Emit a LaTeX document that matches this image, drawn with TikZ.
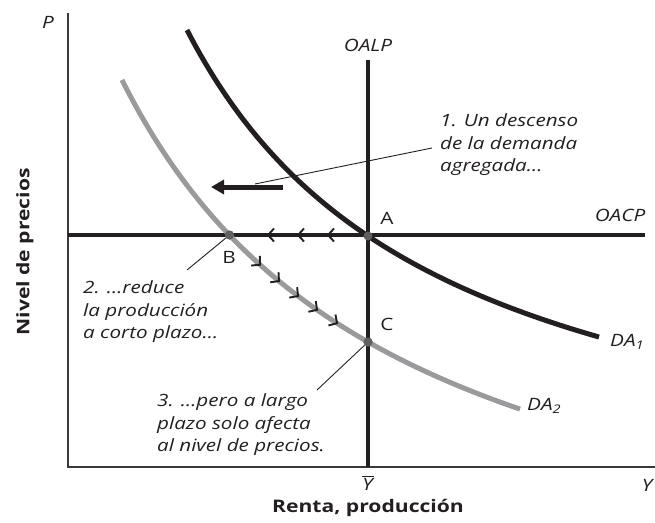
\documentclass[tikz,border=0pt]{standalone}
\usepackage{fontspec}
\setmainfont{Open Sans}[FakeStretch=1.22]
\usetikzlibrary{arrows.meta}
\definecolor{ink}{HTML}{231F20}
\definecolor{curvegrey}{HTML}{9A9A9C}
\definecolor{dotgrey}{HTML}{606062}
\definecolor{axisgrey}{HTML}{3A3A3A}
\tikzset{
  chev/.pic={\draw[ink, line width=1.9pt, line join=miter, line cap=butt] (-6,6.5) -- (0,0) -- (-6,-6.5);}
}
\begin{document}
\begin{tikzpicture}[x=1pt,y=1pt,
  axisline/.style={draw=axisgrey,line width=1.4pt},
  supply/.style={draw=ink,line width=4pt},
  daone/.style={draw=ink,line width=5pt},
  datwo/.style={draw=curvegrey,line width=5pt},
  leader/.style={draw=ink,line width=0.9pt},
  lbl/.style={font=\fontsize{16.9}{22.5}\selectfont\itshape, text=ink, align=left, inner sep=0pt, anchor=west},
  ptlbl/.style={font=\fontsize{17}{20}\selectfont, text=ink, inner sep=0pt},
  itlbl/.style={font=\fontsize{17}{20}\selectfont\itshape, text=ink, inner sep=0pt},
  dot/.style={circle, fill=dotgrey, minimum size=9pt, inner sep=0pt}
]
\useasboundingbox (0,0) rectangle (655,-522);

% axes
\coordinate (origin) at (68,-467);
\coordinate (ytop) at (68,-13);
\coordinate (xend) at (655,-467);
\draw[axisline] (ytop) -- (origin) -- (xend);

% OALP and OACP
\coordinate (oalptop) at (368,-60);
\coordinate (oalpbot) at (368,-467);
\draw[supply] (oalptop) -- (oalpbot);
\coordinate (oacpl) at (68,-235);
\coordinate (oacpr) at (645,-235);
\draw[supply] (oacpl) -- (oacpr);

% demand curves
\draw[datwo] plot[domain=122:520, samples=90] (\x, {-(642.3 - 1585.8/((\x+160)/100))});
\draw[daone] plot[domain=187:599, samples=90] (\x, {-(528.5 - 1281.13/((\x+70)/100))});

% big arrow
\coordinate (arrR) at (283,-187);
\coordinate (arrL) at (211,-187);
\draw[ink, line width=5pt, -{Triangle[length=13pt,width=14pt]}] (arrR) -- (arrL);

% chevrons on OACP
\foreach \xx in {268,298,328} { \path (\xx,-235) pic[rotate=180] {chev}; }
% chevrons on DA2
\foreach \xx in {260,279,298,317,337} {
  \pgfmathsetmacro\yy{-(642.3 - 1585.8/((\xx+160)/100))}
  \pgfmathsetmacro\ang{-atan(15.858/(((\xx+160)/100)^2))}
  \path (\xx,\yy) pic[rotate=\ang] {chev};
}

% points
\node[dot] (A) at (368,-236) {};
\node[dot] (B) at (229.5,-235) {};
\node[dot] (C) at (368,-342) {};
\node[ptlbl] (Alab) at (387,-218) {A};
\node[ptlbl] (Blab) at (229,-257) {B};
\node[ptlbl] (Clab) at (387,-324) {C};

% axis labels
\node[itlbl] (P) at (48,-22) {P};
\node[itlbl] (oalp) at (368,-45) {OALP};
\node[itlbl] (oacp) at (620,-215) {OACP};
\node[itlbl, anchor=west] (da1) at (610,-342) {DA\textsubscript{1}};
\node[itlbl, anchor=west] (da2) at (527,-406) {DA\textsubscript{2}};
\node[itlbl] (ybar) at (368,-483) {$\overline{\mbox{\itshape Y\kern1pt}}$};
\node[itlbl] (ylab) at (647,-485) {Y};
\node[font=\fontsize{17.3}{20}\selectfont\bfseries, text=ink] (xt) at (368,-508) {Renta, producción};
\node[font=\fontsize{17.3}{20}\selectfont\bfseries, text=ink, rotate=90] (yt) at (25,-252) {Nivel de precios};

% annotations
\node[lbl] (n1) at (440,-145) {1. Un descenso\\de la demanda\\agregada…};
\node[lbl] (n2) at (83,-312) {2. …reduce\\la producción\\a corto plazo…};
\node[lbl] (n3) at (157,-425) {3. …pero a largo\\plazo solo afecta\\al nivel de precios.};

\coordinate (l1a) at (432,-148);
\coordinate (l1b) at (255,-184);
\draw[leader] (l1a) -- (l1b);
\coordinate (l2a) at (187,-270);
\draw[leader] (B) -- (l2a);
\coordinate (l3a) at (317,-390);
\draw[leader] (C) -- (l3a);
\node[dot] at (B) {};
\node[dot] at (C) {};
\end{tikzpicture}
\end{document}
